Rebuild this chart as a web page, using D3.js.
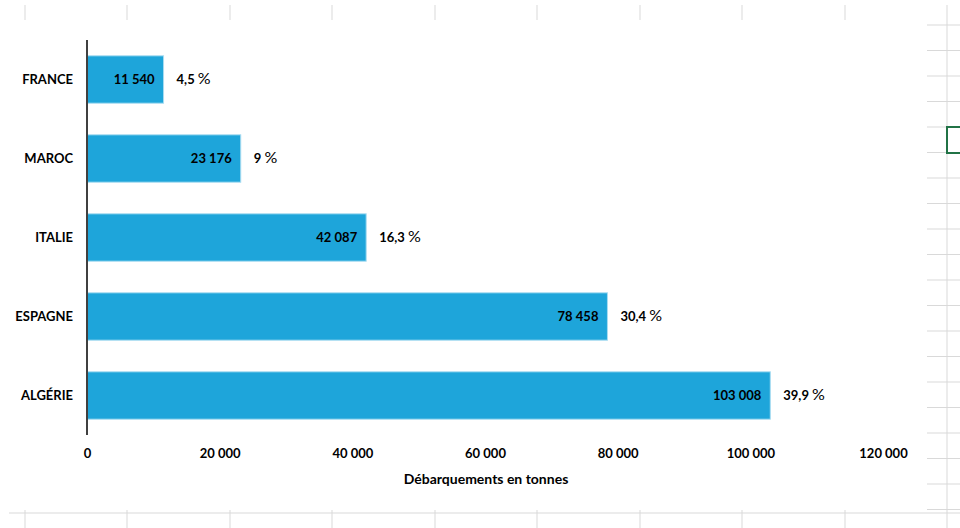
<!DOCTYPE html>
<html>
<head>
<meta charset="utf-8">
<script src="https://cdn.jsdelivr.net/npm/d3@7"></script>
<style>
  body { margin: 0; background: #fff; }
  svg { display: block; font-family: Lato, "Open Sans", sans-serif; }
</style>
</head>
<body>
<svg width="960" height="528"></svg>
<script>
var pays = ["FRANCE", "MAROC", "ITALIE", "ESPAGNE", "ALGÉRIE"];
var tonnes = [11540, 23176, 42087, 78458, 103008];
var parts = ["4,5", "9", "16,3", "30,4", "39,9"];
var xTicks = [0, 20000, 40000, 60000, 80000, 100000, 120000];

var svgWidth = 960, svgHeight = 528;
var svg = d3.select("svg");

// spreadsheet grid behind the chart
var colX = [25, 127, 230, 332, 435, 537, 640, 742, 845, 947];
var grid = svg.append("g").attr("stroke", "#d9d9d9").attr("stroke-width", 1);
colX.forEach(function (x) {
  if (x < 940) {
    grid.append("line").attr("x1", x).attr("x2", x).attr("y1", 5).attr("y2", 20);
    grid.append("line").attr("x1", x).attr("x2", x).attr("y1", 510).attr("y2", 528);
  }
});
grid.append("line").attr("x1", 947).attr("x2", 947).attr("y1", 5).attr("y2", 528);
grid.append("line").attr("x1", 9).attr("x2", 960).attr("y1", 513).attr("y2", 513);
for (var r = 0; r < 20; r++) {
  var gy = 25 + r * 25.5;
  if (gy < 510) grid.append("line").attr("x1", 927).attr("x2", 960).attr("y1", gy).attr("y2", gy);
}
svg.append("rect").attr("x", 947).attr("y", 127).attr("width", 16).attr("height", 26)
  .attr("fill", "none").attr("stroke", "#217346").attr("stroke-width", 2);

// scales
var xScale = d3.scaleLinear().domain([0, 120000]).range([87, 883]);
var yScale = d3.scaleBand().domain(pays).range([40, 435]).paddingInner(0.4).paddingOuter(0.2);

var fr = d3.formatLocale({ decimal: ",", thousands: " ", grouping: [3], currency: ["", " €"] });
var fmt = fr.format(",d");

var data = pays.map(function (p, i) { return { pays: p, v: tonnes[i], pct: parts[i] }; });

svg.selectAll("rect.bar")
  .data(data)
  .enter()
  .append("rect")
  .attr("class", "bar")
  .attr("x", xScale(0))
  .attr("y", function (d) { return yScale(d.pays); })
  .attr("width", function (d) { return xScale(d.v) - xScale(0); })
  .attr("height", yScale.bandwidth())
  .attr("fill", "#1ea5da")
  .attr("stroke", "#a9dcf1")
  .attr("stroke-width", 1);

// x axis labels
var xAxis = d3.axisBottom(xScale).tickValues(xTicks).tickSize(0).tickPadding(0).tickFormat(fmt);
var gx = svg.append("g").attr("transform", "translate(0,449)").call(xAxis);
gx.select(".domain").remove();
gx.selectAll("text").attr("font-size", 13).attr("font-weight", "bold").attr("fill", "#000")
  .attr("font-family", "Lato, sans-serif");

// y axis
var yAxis = d3.axisLeft(yScale).tickSize(0).tickPadding(14);
var gy = svg.append("g").attr("transform", "translate(" + xScale(0) + ",0)").call(yAxis);
gy.select(".domain").remove();
gy.selectAll("text").attr("font-size", 13).attr("font-weight", "bold").attr("fill", "#000")
  .attr("font-family", "Lato, sans-serif");
svg.append("line").attr("x1", xScale(0)).attr("x2", xScale(0)).attr("y1", 40).attr("y2", 435)
  .attr("stroke", "#404040").attr("stroke-width", 2);

// value labels inside bars
svg.selectAll("text.val")
  .data(data)
  .enter()
  .append("text")
  .attr("class", "val")
  .attr("x", function (d) { return xScale(d.v) - 9; })
  .attr("y", function (d) { return yScale(d.pays) + yScale.bandwidth() / 2; })
  .attr("dy", "0.35em")
  .attr("text-anchor", "end")
  .attr("font-size", 13)
  .attr("font-weight", "bold")
  .attr("fill", "#000")
  .text(function (d) { return fmt(d.v); });

// percent labels outside bars
var pct = svg.selectAll("text.pct")
  .data(data)
  .enter()
  .append("text")
  .attr("class", "pct")
  .attr("x", function (d) { return xScale(d.v) + 13; })
  .attr("y", function (d) { return yScale(d.pays) + yScale.bandwidth() / 2; })
  .attr("dy", "0.3em")
  .attr("fill", "#000");
pct.append("tspan").attr("font-size", 13).attr("font-weight", "bold").text(function (d) { return d.pct + " "; });
pct.append("tspan").attr("font-size", 16).text("%");

svg.append("text")
  .attr("x", 486)
  .attr("y", 484)
  .attr("text-anchor", "middle")
  .attr("font-size", 14)
  .attr("font-weight", "bold")
  .attr("fill", "#000")
  .text("Débarquements en tonnes");
</script>
</body>
</html>
